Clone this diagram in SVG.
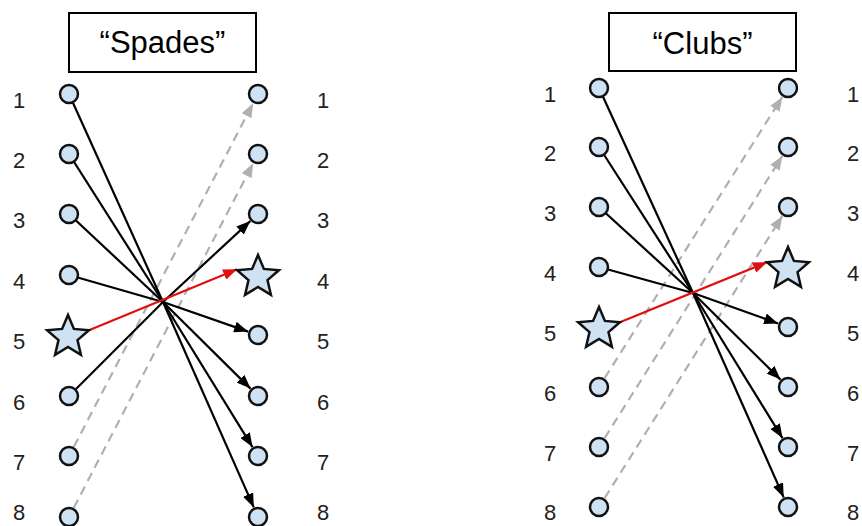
<svg xmlns="http://www.w3.org/2000/svg" width="862" height="526" viewBox="0 0 862 526">
  <style>
    .title-box { fill: #ffffff; stroke: #000000; stroke-width: 2; }
    .title { font-family: "Liberation Sans", Arial, sans-serif; font-size: 31px; fill: #000000; text-anchor: middle; }
    .num { font-family: "Liberation Sans", Arial, sans-serif; font-size: 22px; fill: #222222; text-anchor: middle; }
    .dot { fill: #cfe2f3; stroke: #111111; stroke-width: 2.5; }
    .star { fill: #cfe2f3; stroke: #111111; stroke-width: 2.5; stroke-linejoin: miter; }
    .edge { stroke: #000000; stroke-width: 2.2; fill: none; }
    .arrow { stroke: #000000; stroke-width: 2.2; fill: none; marker-end: url(#head-black); }
    .red { stroke: #e01010; stroke-width: 2.2; fill: none; marker-end: url(#head-red); }
    .dash { stroke: #b0b0b0; stroke-width: 2.2; stroke-dasharray: 9 6; fill: none; marker-end: url(#head-gray); }
  </style>
  <defs>
    <marker id="head-black" markerUnits="userSpaceOnUse" markerWidth="15" markerHeight="11" refX="14" refY="5.5" orient="auto">
      <path d="M0,0 L14,5.5 L0,11 Z" fill="#000000"/>
    </marker>
    <marker id="head-red" markerUnits="userSpaceOnUse" markerWidth="15" markerHeight="11" refX="14" refY="5.5" orient="auto">
      <path d="M0,0 L14,5.5 L0,11 Z" fill="#e01010"/>
    </marker>
    <marker id="head-gray" markerUnits="userSpaceOnUse" markerWidth="15" markerHeight="11" refX="14" refY="5.5" orient="auto">
      <path d="M0,0 L14,5.5 L0,11 Z" fill="#b0b0b0"/>
    </marker>
    <polygon id="star5" points="0,-22 5.9,-8.1 20.92,-6.8 9.5,3.1 12.93,17.8 0,10 -12.93,17.8 -9.5,3.1 -20.92,-6.8 -5.9,-8.1"/>
  </defs>

  <rect width="862" height="526" fill="#ffffff"/>

  <!-- ===== Spades panel ===== -->
  <g id="spades-title">
    <rect class="title-box" x="69" y="13" width="187" height="59"/>
    <text class="title" x="162.5" y="53">“Spades”</text>
  </g>

  <g id="spades-connectors">
    <!-- dashed pass-through arrows -->
    <line class="dash" x1="73.9" y1="446.7" x2="253.1" y2="103.3"/>
    <line class="dash" x1="73.8" y1="507.7" x2="253.2" y2="163.3"/>
    <!-- inputs into the shared point -->
    <line class="edge" x1="69" y1="94" x2="163" y2="302"/>
    <line class="edge" x1="69" y1="154" x2="163" y2="302"/>
    <line class="edge" x1="69" y1="214" x2="163" y2="302"/>
    <line class="edge" x1="69" y1="275" x2="163" y2="302"/>
    <line class="edge" x1="69" y1="396" x2="163" y2="302"/>
    <!-- outputs from the shared point -->
    <line class="arrow" x1="163" y1="302" x2="250.3" y2="221.1"/>
    <line class="arrow" x1="163" y1="302" x2="248.1" y2="331.6"/>
    <line class="arrow" x1="163" y1="302" x2="250.5" y2="388.6"/>
    <line class="arrow" x1="163" y1="302" x2="252.5" y2="447.1"/>
    <line class="arrow" x1="163" y1="302" x2="253.8" y2="507.4"/>
    <!-- star to star -->
    <line class="red" x1="88.9" y1="330.2" x2="237.1" y2="269.2"/>
  </g>

  <g id="spades-left">
    <g id="spades-l1"><circle class="dot" cx="69" cy="94" r="9"/><text class="num" x="19" y="108">1</text></g>
    <g id="spades-l2"><circle class="dot" cx="69" cy="154" r="9"/><text class="num" x="19" y="168">2</text></g>
    <g id="spades-l3"><circle class="dot" cx="69" cy="214" r="9"/><text class="num" x="19" y="228">3</text></g>
    <g id="spades-l4"><circle class="dot" cx="69" cy="275" r="9"/><text class="num" x="19" y="289">4</text></g>
    <g id="spades-l5"><use href="#star5" class="star" x="68" y="337"/><text class="num" x="19" y="349">5</text></g>
    <g id="spades-l6"><circle class="dot" cx="69" cy="396" r="9"/><text class="num" x="19" y="410">6</text></g>
    <g id="spades-l7"><circle class="dot" cx="69" cy="456" r="9"/><text class="num" x="19" y="470">7</text></g>
    <g id="spades-l8"><circle class="dot" cx="69" cy="517" r="9"/><text class="num" x="19" y="520">8</text></g>
  </g>

  <g id="spades-right">
    <g id="spades-r1"><circle class="dot" cx="258" cy="94" r="9"/><text class="num" x="323" y="108">1</text></g>
    <g id="spades-r2"><circle class="dot" cx="258" cy="154" r="9"/><text class="num" x="323" y="168">2</text></g>
    <g id="spades-r3"><circle class="dot" cx="258" cy="214" r="9"/><text class="num" x="323" y="228">3</text></g>
    <g id="spades-r4"><use href="#star5" class="star" x="258" y="277"/><text class="num" x="323" y="289">4</text></g>
    <g id="spades-r5"><circle class="dot" cx="258" cy="335" r="9"/><text class="num" x="323" y="349">5</text></g>
    <g id="spades-r6"><circle class="dot" cx="258" cy="396" r="9"/><text class="num" x="323" y="410">6</text></g>
    <g id="spades-r7"><circle class="dot" cx="258" cy="456" r="9"/><text class="num" x="323" y="470">7</text></g>
    <g id="spades-r8"><circle class="dot" cx="258" cy="517" r="9"/><text class="num" x="323" y="520">8</text></g>
  </g>

  <!-- ===== Clubs panel ===== -->
  <g id="clubs-title">
    <rect class="title-box" x="609" y="13" width="187" height="58"/>
    <text class="title" x="702.5" y="54">“Clubs”</text>
  </g>

  <g id="clubs-connectors">
    <!-- dashed pass-through arrows -->
    <line class="dash" x1="604.6" y1="378.1" x2="782.4" y2="96.9"/>
    <line class="dash" x1="604.6" y1="438.1" x2="782.4" y2="155.9"/>
    <line class="dash" x1="604.6" y1="498.1" x2="782.4" y2="215.9"/>
    <!-- inputs into the shared point -->
    <line class="edge" x1="599" y1="88" x2="693" y2="293"/>
    <line class="edge" x1="599" y1="147" x2="693" y2="293"/>
    <line class="edge" x1="599" y1="207" x2="693" y2="293"/>
    <line class="edge" x1="599" y1="267" x2="693" y2="293"/>
    <!-- outputs from the shared point -->
    <line class="arrow" x1="693" y1="293" x2="778.1" y2="323.5"/>
    <line class="arrow" x1="693" y1="293" x2="780.5" y2="379.6"/>
    <line class="arrow" x1="693" y1="293" x2="782.5" y2="438.1"/>
    <line class="arrow" x1="693" y1="293" x2="783.7" y2="497.4"/>
    <!-- star to star -->
    <line class="red" x1="619.9" y1="322.2" x2="767.1" y2="262.2"/>
  </g>

  <g id="clubs-left">
    <g id="clubs-l1"><circle class="dot" cx="599" cy="88" r="9"/><text class="num" x="550" y="102">1</text></g>
    <g id="clubs-l2"><circle class="dot" cx="599" cy="147" r="9"/><text class="num" x="550" y="161">2</text></g>
    <g id="clubs-l3"><circle class="dot" cx="599" cy="207" r="9"/><text class="num" x="550" y="221">3</text></g>
    <g id="clubs-l4"><circle class="dot" cx="599" cy="267" r="9"/><text class="num" x="550" y="281">4</text></g>
    <g id="clubs-l5"><use href="#star5" class="star" x="599" y="329"/><text class="num" x="550" y="341">5</text></g>
    <g id="clubs-l6"><circle class="dot" cx="599" cy="387" r="9"/><text class="num" x="550" y="401">6</text></g>
    <g id="clubs-l7"><circle class="dot" cx="599" cy="447" r="9"/><text class="num" x="550" y="461">7</text></g>
    <g id="clubs-l8"><circle class="dot" cx="599" cy="507" r="9"/><text class="num" x="550" y="520">8</text></g>
  </g>

  <g id="clubs-right">
    <g id="clubs-r1"><circle class="dot" cx="788" cy="88" r="9"/><text class="num" x="853" y="102">1</text></g>
    <g id="clubs-r2"><circle class="dot" cx="788" cy="147" r="9"/><text class="num" x="853" y="161">2</text></g>
    <g id="clubs-r3"><circle class="dot" cx="788" cy="207" r="9"/><text class="num" x="853" y="221">3</text></g>
    <g id="clubs-r4"><use href="#star5" class="star" x="788" y="269"/><text class="num" x="853" y="281">4</text></g>
    <g id="clubs-r5"><circle class="dot" cx="788" cy="327" r="9"/><text class="num" x="853" y="341">5</text></g>
    <g id="clubs-r6"><circle class="dot" cx="788" cy="387" r="9"/><text class="num" x="853" y="401">6</text></g>
    <g id="clubs-r7"><circle class="dot" cx="788" cy="447" r="9"/><text class="num" x="853" y="461">7</text></g>
    <g id="clubs-r8"><circle class="dot" cx="788" cy="507" r="9"/><text class="num" x="853" y="520">8</text></g>
  </g>
</svg>
